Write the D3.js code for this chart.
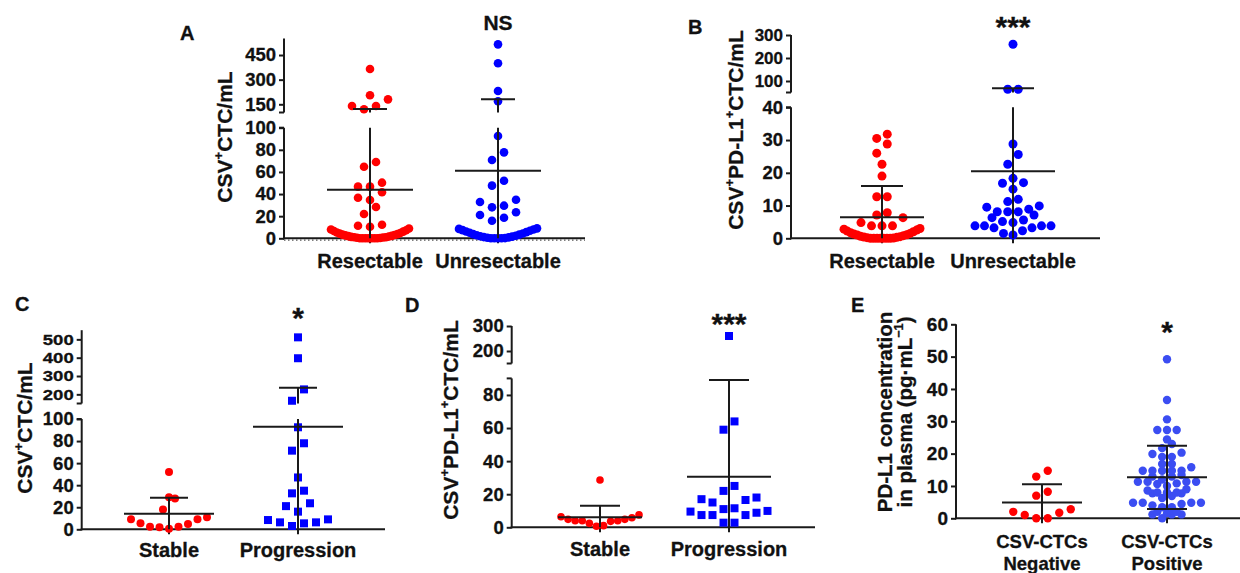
<!DOCTYPE html>
<html><head><meta charset="utf-8">
<script src="https://cdn.jsdelivr.net/npm/d3@7"></script>
<style>
body{margin:0;background:#fff}
svg{display:block}
text{font-family:"Liberation Sans",Arial,sans-serif;font-weight:bold;fill:#111;stroke:#111;stroke-width:0.3px}
</style>
</head><body>
<svg id="c" width="1240" height="573"></svg>
<script>
// ---------------- DATA ----------------
const catsAB = ["Resectable", "Unresectable"];
const catsCD = ["Stable", "Progression"];
const catsE  = ["CSV-CTCs Negative", "CSV-CTCs Positive"];

// Panel A: CSV+CTC/mL
const A_resectable = [365,205,180,140,140,120, 69,64.7,50.3,46.7,46.7,41.6,36.7,34.6,28.3,22,12.3,11.4,10.5,
  8.8,8,7.3,6.6,6,5.3,4.8,4.2,3.8,3.3,3,2.6,2.2,2,1.6,1.3,1,1,0.7,0.5,0.3,0,0,0,0,0,0,0];
const A_unresectable = [515,400,231,168, 92.5,77.7,70.8,52,47.6,34.9,32.8,29.5,28,23.5,21,18.6,15.9,
  9,8.5,8,7.4,6.8,6.2,5.6,5,4.4,3.8,3.3,2.8,2.3,1.9,1.5,1.1,0.8,0.5,0.2,0,0,0,0];
const A_mean = [44, 61];
const A_sdUpper = [121, 180];
const A_ticksLow = [0,20,40,60,80,100];
const A_ticksHigh = [150,300,450];

// Panel B: CSV+PD-L1+CTC/mL
const B_resectable = [31.8,30.5,28.8,26,22.6,19,12.7,12.7,7.8,7.1,6.3,4.8,3.8,3.8,3.8,
  3,2.8,2.5,2.2,2,1.7,1.5,1.3,1.1,1,0.8,0.6,0.5,0.4,0.3,0.2,0.1,0,0,0,0,0,0,0];
const B_unresectable = [260,64,64, 28.8,25.6,22.6,18.3,16.8,17,15,11.9,9.9,11.2,8.9,9.5,8.1,8.1,8.1,7.1,6.3,
  5.1,4.8,5.6,3.8,3.8,3.2,3.8,3.8,3.2,2.3,1.5,1.0];
const B_mean = [6.4, 20.5];
const B_sdUpper = [16, 68];
const B_ticksLow = [0,10,20,30,40];
const B_ticksHigh = [100,200,300];

// Panel C: CSV+CTC/mL by response
const C_stable = [52,29,28,18,10.9,9,9,5.4,4.8,2.4,2.4,1.8,0.6];
const C_progression = [511,397,227,165,92.5,78,71.3,47,35,32.6,23.6,21,16,9,8.4,6.3,6.3,5.4,3];
const C_mean = [14, 93];
const C_sdUpper = [28.5, 236];
const C_ticksLow = [0,20,40,60,80,100];
const C_ticksHigh = [200,300,400,500];

// Panel D: CSV+PD-L1+CTC/mL by response
const D_stable = [28.6,7.5,6.4,5.8,4.8,4.8,4,4,4,3.6,2.4,1,0.6];
const D_progression = [260,64,59,25,22,18,17,16.5,15,11.5,11,9.9,9.5,8.8,7.4,7.4,7.4,2.8,2.8];
const D_mean = [6, 30.6];
const D_sdUpper = [13, 89];
const D_ticksLow = [0,20,40,60,80];
const D_ticksHigh = [200,300];

// Panel E: plasma PD-L1
const E_negative = [14.7,12.9,8.2,7,2.8,2,1.7,1,0,0];
const E_positive = [49.2,36.6,30.6,27.3,27.3,27.3,24.4,23,21.7,20.3,19.9,19,19,16.8,16.8,15.8,
  14.7,14.7,14.7,14.7,14.7,13.4,12.9,12.9,12,11.3,11.3,11.3,11.3,10.8,10.6,10,9,8.6,8,8,8,7.7,7.7,
  6.9,6.3,4.8,4.8,4.8,4.8,4.4,4,3.4,3.4,2,2,1.6,1.2,1.2,1.2,0];
const E_mean = [4.9, 12.7];
const E_sdUpper = [10.5, 22.4];
const E_sdLower = [null, 2.9];
const E_ticks = [0,10,20,30,40,50,60];

// ---------------- STYLE / LAYOUT ----------------
const RED = "#ff0000", BLUE = "#0000ff", BLUE_E = "#3b4df2", INK = "#1a1a1a";
const T_CSV = [[["CSV",0],["+",1],["CTC/mL",0]]];
const T_PD = [[["CSV",0],["+",1],["PD-L1",0],["+",1],["CTC/mL",0]]];
const T_E = [[["PD-L1 concentration",0]], [["in plasma (pg\u00b7mL",0],["\u22121",1],[")",0]]];

const panels = [
 {letter:"A", letterPos:[180,40], sig:"NS", sigSize:21, sigPos:[498,30],
  axisX:284, xEnd:585, cats:catsAB, catX:[370,498], catSize:20, catY:268,
  segs:[{domain:[0,100], range:[238.3,127.7], ticks:A_ticksLow},
        {domain:[100,550], range:[112.5,38.6], ticks:A_ticksHigh}],
  groups:[{values:A_resectable,color:RED,shape:"circle"},{values:A_unresectable,color:BLUE,shape:"circle"}],
  mean:A_mean, sdHi:A_sdUpper, sdLo:null, meanHalf:43, capHalf:17, r:4.3, sq:8,
  binH:10, spacing:12, maxHalf:39, title:T_CSV, titleSize:21, titleX:232, titleY:137, dotted:true},
 {letter:"B", letterPos:[688,34], sig:"***", sigSize:30, sigPos:[1013,37],
  axisX:791, xEnd:1100, cats:catsAB, catX:[882,1013], catSize:20, catY:268,
  segs:[{domain:[0,40], range:[238.3,107.3], ticks:B_ticksLow},
        {domain:[50,300], range:[92.5,35], ticks:B_ticksHigh, font:17}],
  groups:[{values:B_resectable,color:RED,shape:"circle"},{values:B_unresectable,color:BLUE,shape:"circle"}],
  mean:B_mean, sdHi:B_sdUpper, sdLo:null, meanHalf:42, capHalf:21, r:4.5, sq:8,
  binH:10, spacing:10.5, maxHalf:38, title:T_PD, titleSize:21, titleX:743, titleY:130},
 {letter:"C", letterPos:[15,311], sig:"*", sigSize:30, sigPos:[298,328],
  axisX:81.7, xEnd:385, cats:catsCD, catX:[169,298], catSize:20, catY:557,
  segs:[{domain:[0,100], range:[529.3,419], ticks:C_ticksLow},
        {domain:[150,550], range:[403.5,330.2], ticks:C_ticksHigh, font:15.2, stretch:1.22}],
  groups:[{values:C_stable,color:RED,shape:"circle"},{values:C_progression,color:BLUE,shape:"square"}],
  mean:C_mean, sdHi:C_sdUpper, sdLo:null, meanHalf:45, capHalf:19, r:4, sq:8,
  binH:12, spacing:12, maxHalf:38, title:T_CSV, titleSize:21, titleX:32, titleY:428},
 {letter:"D", letterPos:[405,312], sig:"***", sigSize:30, sigPos:[729,334],
  axisX:511.7, xEnd:815, cats:catsCD, catX:[600,729], catSize:20, catY:556,
  segs:[{domain:[0,90], range:[527.3,378.4], ticks:D_ticksLow},
        {domain:[150,300], range:[363.5,326], ticks:D_ticksHigh}],
  groups:[{values:D_stable,color:RED,shape:"circle"},{values:D_progression,color:BLUE,shape:"square"}],
  mean:D_mean, sdHi:D_sdUpper, sdLo:null, meanHalf:42, capHalf:20, r:3.8, sq:8,
  binH:12, spacing:11, maxHalf:39, title:T_PD, titleSize:21, titleX:458, titleY:420},
 {letter:"E", letterPos:[851,312], sig:"*", sigSize:30, sigPos:[1167,342],
  axisX:956, xEnd:1240, cats:catsE, catX:[1042,1167], catSize:18.5, catY:548,
  segs:[{domain:[0,60], range:[518.3,324.3], ticks:E_ticks, font:19}],
  groups:[{values:E_negative,color:RED,shape:"circle",binH:10,spacing:11.5},
          {values:E_positive,color:BLUE_E,shape:"circle"}],
  mean:E_mean, sdHi:E_sdUpper, sdLo:E_sdLower, meanHalf:40, capHalf:20, r:4.2, sq:8,
  binH:5, spacing:9.7, maxHalf:42, title:T_E, titleSize:20.5, titleX:892, titleY:412, titleGap:20}
];

// ---------------- DRAW ----------------
const svg = d3.select("#c");

function swarm(values, yFn, binH, spacing, maxHalf){
  const pts = values.map(v => ({v, y:yFn(v)})).sort((a,b) => b.y - a.y || a.v - b.v);
  const groups = []; let cur = null;
  pts.forEach(p => {
    if (!cur || cur.y0 - p.y > binH){ cur = {y0:p.y, items:[]}; groups.push(cur); }
    cur.items.push(p);
  });
  groups.forEach(g => {
    const n = g.items.length;
    const s = n > 1 ? Math.min(spacing, 2*maxHalf/(n-1)) : 0;
    const slots = d3.range(n).map(i => (i - (n-1)/2) * s);
    slots.sort((a,b) => Math.abs(a) - Math.abs(b) || a - b);
    g.items.sort((a,b) => a.v - b.v).forEach((p,i) => p.dx = slots[i]);
  });
  return pts;
}

function drawTitle(g, lines, x, y, size, gap){
  lines.forEach((segsT, li) => {
    const t = g.append("text")
      .attr("transform", `translate(${x + li * (gap||0)},${y}) rotate(-90)`)
      .attr("text-anchor","middle").style("font-size", size + "px");
    let shifted = 0;
    segsT.forEach(([str, sup]) => {
      const ts = t.append("tspan").text(str);
      if (sup){ ts.style("font-size", (size*0.62)+"px").attr("dy", -size*0.42); shifted = size*0.42; }
      else if (shifted){ ts.attr("dy", shifted); shifted = 0; }
    });
  });
}

panels.forEach(p => {
  const g = svg.append("g");
  p.segs.forEach(s => { s.scale = d3.scaleLinear().domain(s.domain).range(s.range); });
  const yOf = v => {
    for (const s of p.segs) if (v <= s.domain[1]) return s.scale(v);
    return p.segs[p.segs.length-1].scale(v);
  };
  const x = d3.scalePoint().domain(p.cats).range(p.catX);
  const y0 = p.segs[0].scale(0);

  // y axis segments
  p.segs.forEach((s, si) => {
    const ax = g.append("g").attr("transform", `translate(${p.axisX},0)`)
      .call(d3.axisLeft(s.scale).tickValues(s.ticks).tickSize(5).tickPadding(3).tickSizeOuter(0));
    ax.select(".domain").remove();
    ax.selectAll(".tick line").attr("stroke", INK).attr("stroke-width", 2);
    const tt = ax.selectAll(".tick text").style("font-size", (s.font || 18.5)+"px")
      .style("font-family","'Liberation Sans',Arial,sans-serif").style("font-weight","bold")
      .attr("fill","#111").attr("stroke","#111").attr("stroke-width",0.3);
    if (s.stretch){
      tt.attr("x", -8 / s.stretch).attr("transform", `scale(${s.stretch},1)`);
    }
    g.append("line").attr("x1",p.axisX).attr("x2",p.axisX)
      .attr("y1", s.scale(s.domain[0]) + (si===0?1:0)).attr("y2", s.scale(s.domain[1]))
      .attr("stroke", INK).attr("stroke-width", 2);
    if (p.segs.length > 1){
      const yEnd = si === 0 ? s.scale(s.domain[1]) : s.scale(s.domain[0]);
      g.append("line").attr("x1",p.axisX-5).attr("x2",p.axisX).attr("y1",yEnd).attr("y2",yEnd)
        .attr("stroke", INK).attr("stroke-width", 2);
    }
  });

  // x axis
  g.append("line").attr("x1",p.axisX-1).attr("x2",p.xEnd).attr("y1",y0).attr("y2",y0)
    .attr("stroke", INK).attr("stroke-width", 2);
  if (p.dotted){
    g.append("line").attr("x1",p.axisX).attr("x2",p.xEnd).attr("y1",y0+1.8).attr("y2",y0+1.8)
      .attr("stroke","#555").attr("stroke-width",1.2).attr("stroke-dasharray","1.5,2.5");
  }
  p.cats.forEach(c => {
    g.append("line").attr("x1",x(c)).attr("x2",x(c)).attr("y1",y0).attr("y2",y0+5)
      .attr("stroke", INK).attr("stroke-width", 2);
    const lines = p.cats === catsE ? c.split(" ") : [c];
    lines.forEach((ln, i) => {
      g.append("text").attr("x", x(c)).attr("y", p.catY + i*22).attr("text-anchor","middle")
        .style("font-size", p.catSize+"px").text(ln);
    });
  });

  // points
  p.groups.forEach((grp, gi) => {
    const cx = x(p.cats[gi]);
    const pts = swarm(grp.values, yOf, grp.binH || p.binH, grp.spacing || p.spacing, p.maxHalf);
    if (grp.shape === "circle"){
      g.selectAll(null).data(pts).enter().append("circle")
        .attr("cx", d => cx + d.dx).attr("cy", d => d.y).attr("r", p.r).attr("fill", grp.color);
    } else {
      g.selectAll(null).data(pts).enter().append("rect")
        .attr("x", d => cx + d.dx - p.sq/2).attr("y", d => d.y - p.sq/2)
        .attr("width", p.sq).attr("height", p.sq).attr("fill", grp.color);
    }
  });

  // mean and SD
  const ln = (x1,y1,x2,y2) => g.append("line").attr("x1",x1).attr("y1",y1).attr("x2",x2).attr("y2",y2)
    .attr("stroke", INK).attr("stroke-width", 2);
  p.cats.forEach((c, i) => {
    const cx = x(c), m = p.mean[i], hi = p.sdHi[i];
    const hasLo = p.sdLo && p.sdLo[i] != null;
    const lo = hasLo ? p.sdLo[i] : 0;
    p.segs.forEach(s => {
      const a = Math.max(lo, s.domain[0]), b = Math.min(hi, s.domain[1]);
      if (a < b) ln(cx, s.scale(a), cx, s.scale(b));
    });
    ln(cx - p.meanHalf, yOf(m), cx + p.meanHalf, yOf(m));
    ln(cx - p.capHalf, yOf(hi), cx + p.capHalf, yOf(hi));
    if (hasLo) ln(cx - p.capHalf, yOf(lo), cx + p.capHalf, yOf(lo));
  });

  // titles, letters, significance
  drawTitle(g, p.title, p.titleX, p.titleY, p.titleSize, p.titleGap);
  g.append("text").attr("x", p.letterPos[0]).attr("y", p.letterPos[1]).style("font-size","20px").text(p.letter);
  g.append("text").attr("x", p.sigPos[0]).attr("y", p.sigPos[1]).attr("text-anchor","middle")
    .style("font-size", p.sigSize+"px").text(p.sig);
});
</script>
</body></html>
